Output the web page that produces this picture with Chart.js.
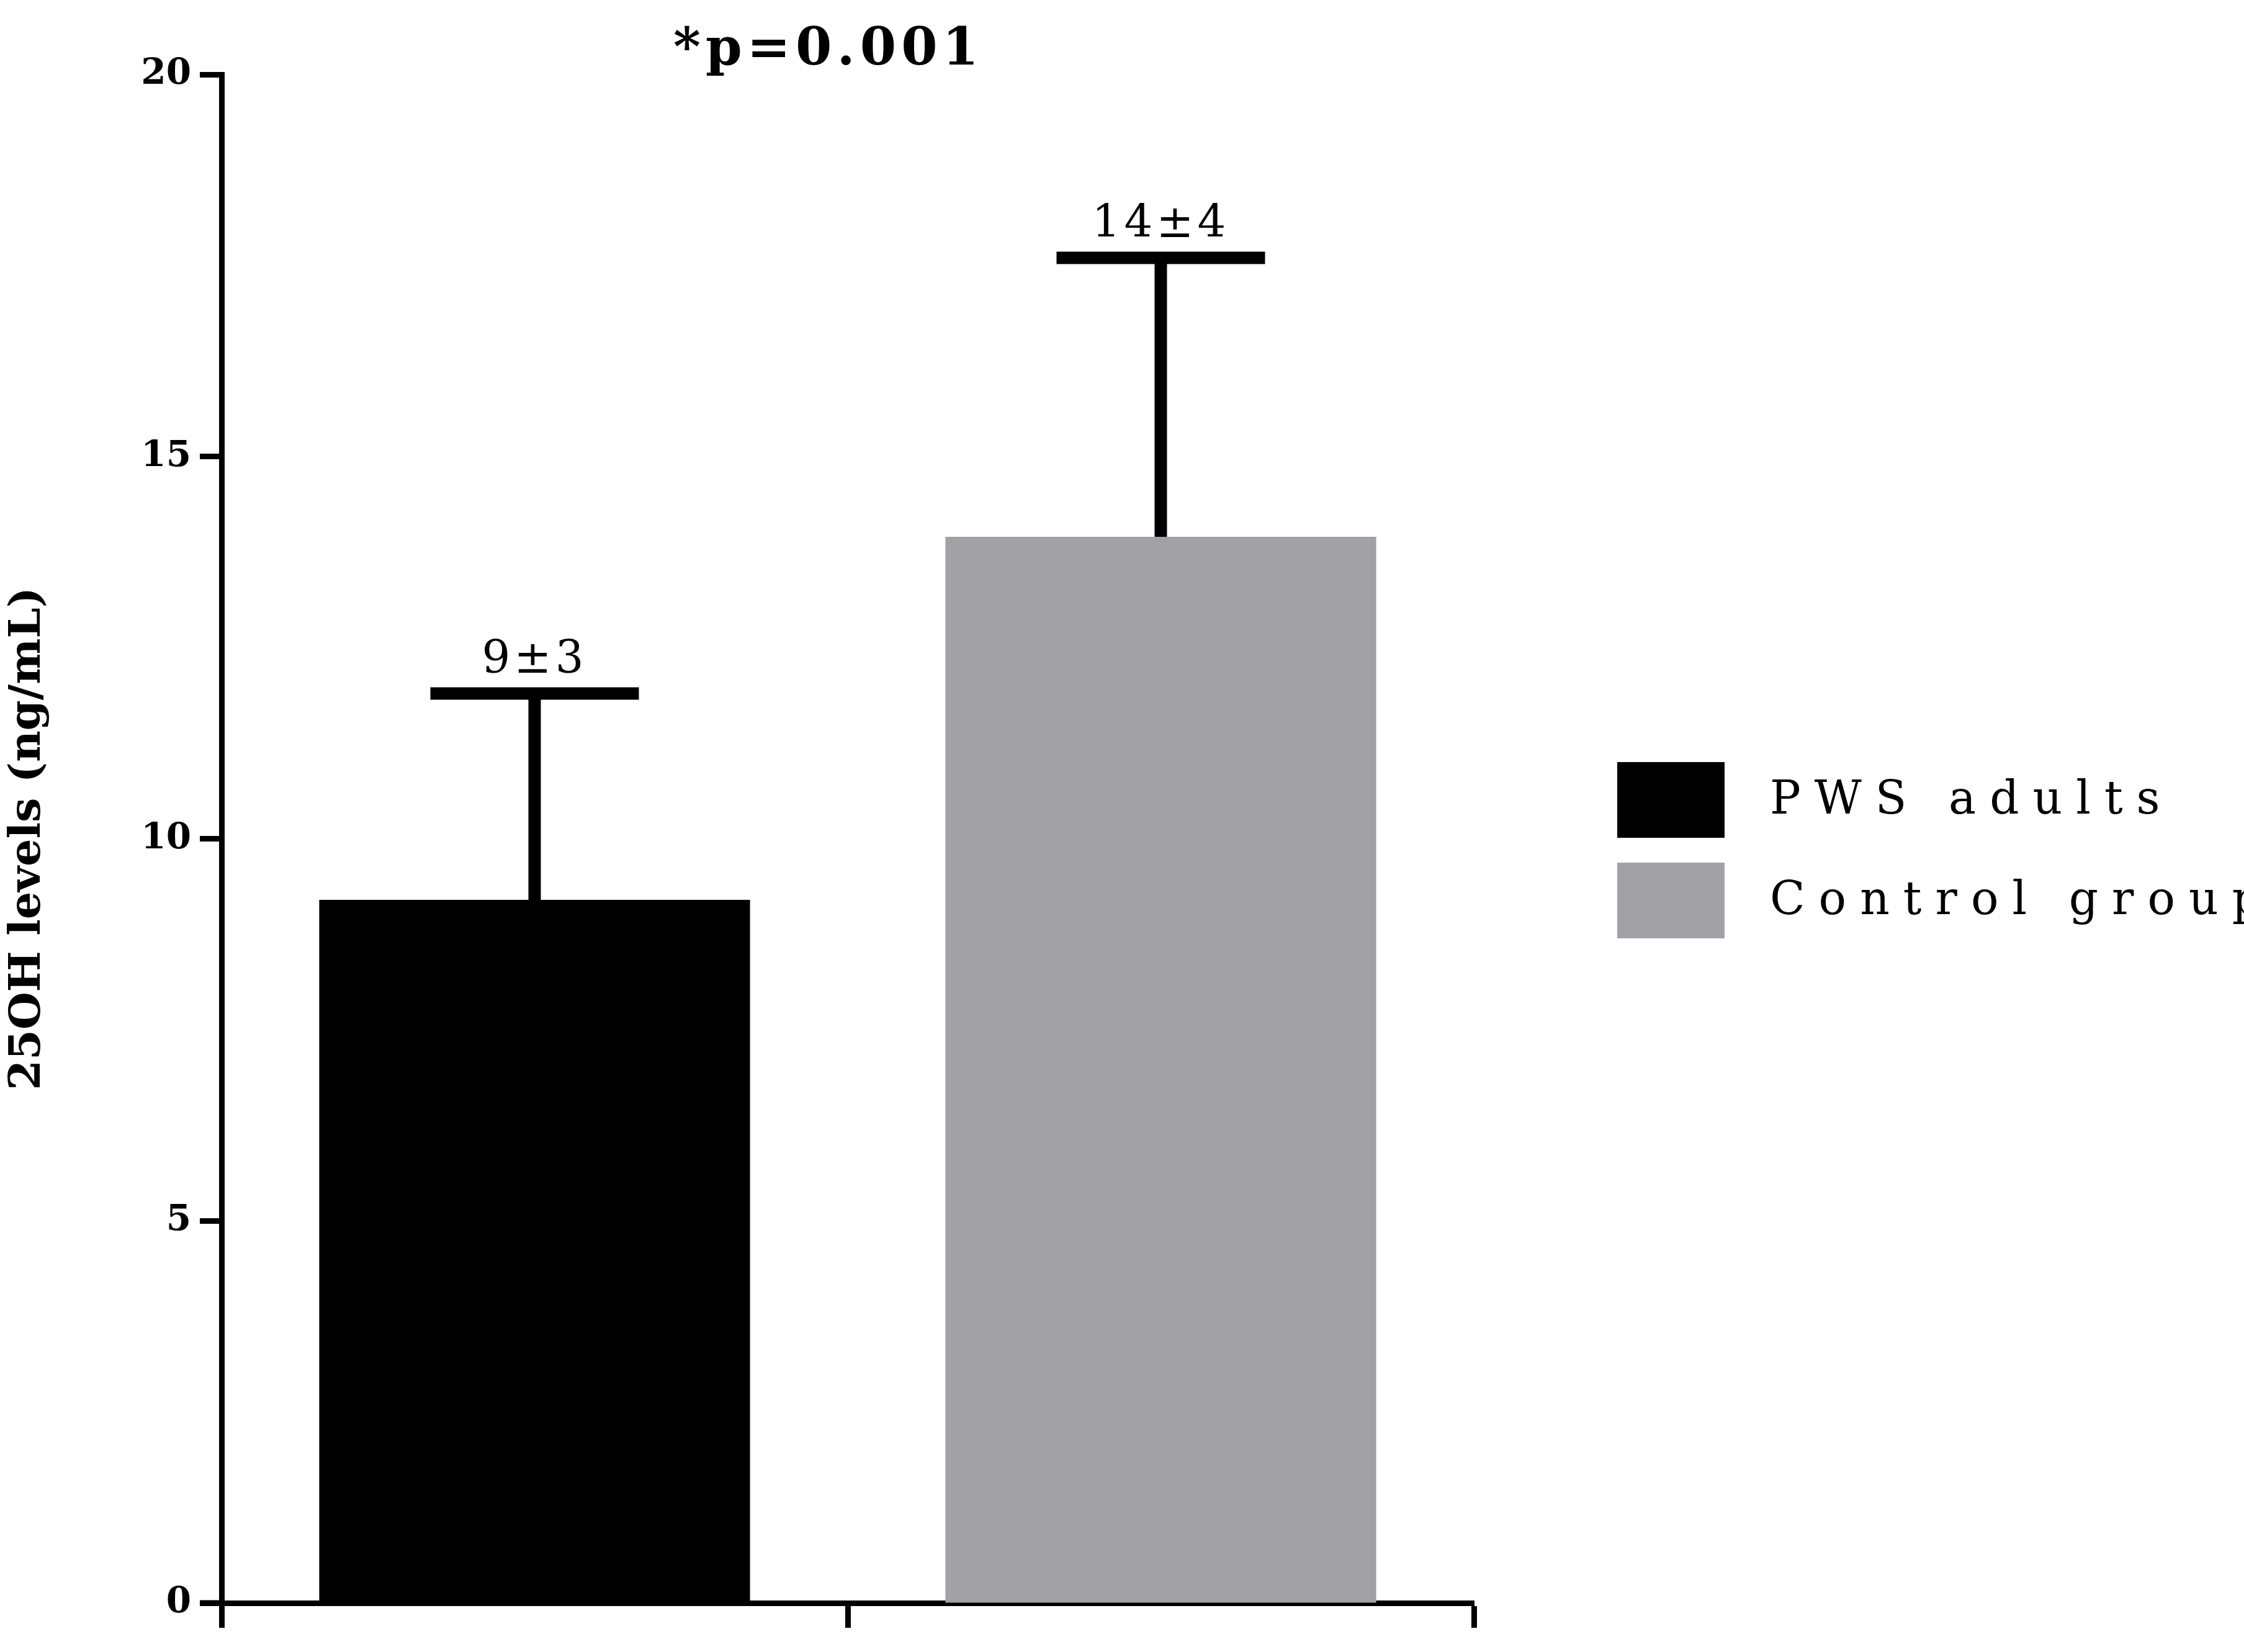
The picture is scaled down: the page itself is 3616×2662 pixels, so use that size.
<!DOCTYPE html>
<html>
<head>
<meta charset="utf-8">
<script src="https://cdn.jsdelivr.net/npm/chart.js@4"></script>
<style>
  html, body { margin: 0; padding: 0; background: #fff; }
  canvas { display: block; }
</style>
</head>
<body>
<canvas id="chart" width="3616" height="2662"></canvas>
<script>
const groups = ['PWS adults', 'Control group'];
const means = [9.2, 13.95];
const errorTops = [11.9, 17.6];
const annotations = ['9\u00b13', '14\u00b14'];
const barColors = ['#000000', '#a2a1a6'];
const pValueText = '*p=0.001';

const SERIF = '"DejaVu Serif", "Liberation Serif", serif';

// error bars, value labels, p-value and legend
const extrasPlugin = {
    id: 'extras',
    afterDatasetsDraw(chart) {
        const ctx = chart.ctx;
        const x = chart.scales.x;
        const y = chart.scales.y;
        const meta = chart.getDatasetMeta(0);
        ctx.save();
        ctx.strokeStyle = '#000';
        ctx.lineWidth = 20;
        ctx.lineCap = 'butt';
        meta.data.forEach((bar, i) => {
            const cx = bar.x;
            const yTop = y.getPixelForValue(errorTops[i]);
            const yBar = y.getPixelForValue(means[i]);
            ctx.beginPath();
            ctx.moveTo(cx, yBar);
            ctx.lineTo(cx, yTop);
            ctx.moveTo(cx - 168, yTop);
            ctx.lineTo(cx + 168, yTop);
            ctx.stroke();
            ctx.fillStyle = '#000';
            ctx.font = '72px ' + SERIF;
            ctx.textAlign = 'center';
            ctx.textBaseline = 'bottom';
            ctx.letterSpacing = '6px';
            ctx.fillText(annotations[i], cx, yTop - 16);
        });

        // p-value above plot
        ctx.font = 'bold 84px ' + SERIF;
        ctx.letterSpacing = '8px';
        ctx.textAlign = 'center';
        ctx.textBaseline = 'middle';
        ctx.fillText(pValueText, 1335, 82);

        // extend x axis line slightly left of the y axis
        ctx.lineWidth = 9;
        ctx.beginPath();
        ctx.moveTo(322, x.top);
        ctx.lineTo(x.left, x.top);
        ctx.stroke();

        // legend
        ctx.font = '74px ' + SERIF;
        ctx.letterSpacing = '22px';
        ctx.textAlign = 'left';
        groups.forEach((g, i) => {
            const top = 1228 + i * 162;
            ctx.fillStyle = barColors[i];
            ctx.fillRect(2606, top, 173, 122);
            ctx.fillStyle = '#000';
            ctx.fillText(g, 2852, top + 64);
        });
        ctx.restore();
    }
};

new Chart(document.getElementById('chart'), {
    type: 'bar',
    data: {
        labels: groups,
        datasets: [{
            data: means,
            backgroundColor: barColors,
            categoryPercentage: 0.688,
            barPercentage: 1.0
        }]
    },
    options: {
        responsive: false,
        animation: false,
        layout: { padding: { top: 120, right: 1241, left: 0, bottom: 0 } },
        plugins: { legend: { display: false }, tooltip: { enabled: false } },
        scales: {
            x: {
                afterFit(s) { s.height = 79; },
                grid: { drawOnChartArea: false, tickLength: 40, tickWidth: 9, color: '#000' },
                border: { color: '#000', width: 9 },
                ticks: { display: false }
            },
            y: {
                min: 0,
                max: 20,
                afterFit(s) { s.width = 357; },
                grid: { drawOnChartArea: false, tickLength: 35, tickWidth: 9, color: '#000' },
                border: { color: '#000', width: 9 },
                ticks: {
                    stepSize: 5,
                    color: '#000',
                    padding: 14,
                    font: { family: SERIF, size: 58, weight: 'bold' }
                },
                title: {
                    display: true,
                    text: '25OH levels (ng/mL)',
                    color: '#000',
                    padding: { bottom: 50 },
                    font: { family: SERIF, size: 70, weight: 'bold' }
                }
            }
        }
    },
    plugins: [extrasPlugin]
});
</script>
</body>
</html>
